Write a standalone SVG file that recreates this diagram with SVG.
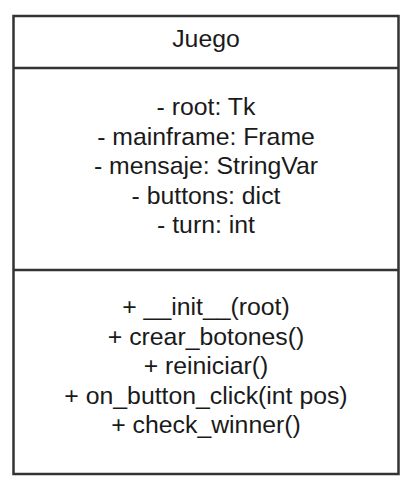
<svg xmlns="http://www.w3.org/2000/svg" width="417" height="483" viewBox="0 0 417 483">
<style>
.box{fill:#ffffff;stroke:#333333;stroke-width:2.5}
.div{stroke:#333333;stroke-width:2.5}
.t{font-family:"Liberation Sans",Arial,sans-serif;font-size:24.8px;fill:#1a1a1a;text-anchor:middle}
</style>
<rect width="417" height="483" fill="#ffffff"/>
<g id="Juego">
<rect class="box" x="13.5" y="16" width="385" height="458"/>
<line class="div" x1="13.5" y1="68" x2="398.5" y2="68"/>
<line class="div" x1="13.5" y1="270" x2="398.5" y2="270"/>
<text class="t" x="206" y="47.3">Juego</text>
<text class="t" x="206" y="115">- root: Tk</text>
<text class="t" x="206" y="144.5">- mainframe: Frame</text>
<text class="t" x="206" y="174">- mensaje: StringVar</text>
<text class="t" x="206" y="203.5">- buttons: dict</text>
<text class="t" x="206" y="233">- turn: int</text>
<text class="t" x="206" y="315">+ __init__(root)</text>
<text class="t" x="206" y="344.5">+ crear_botones()</text>
<text class="t" x="206" y="374">+ reiniciar()</text>
<text class="t" x="206" y="403.5">+ on_button_click(int pos)</text>
<text class="t" x="206" y="433">+ check_winner()</text>
</g>
<g id="connectors"></g>
</svg>
